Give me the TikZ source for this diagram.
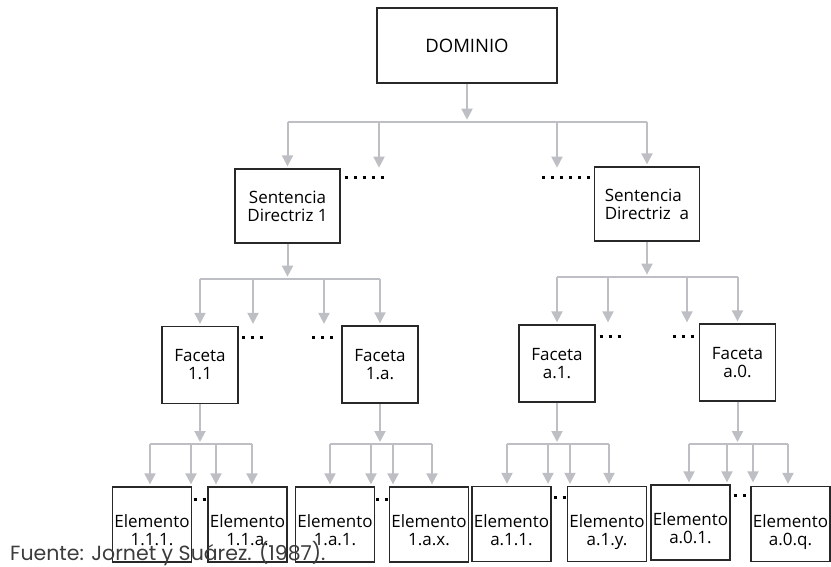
\documentclass[tikz,border=0pt]{standalone}
\usepackage{fontspec}
\setmainfont{Open Sans}
\newfontfamily\fuentefont{Poppins}
\usetikzlibrary{arrows.meta,calc}
\definecolor{gris}{RGB}{190,191,196}
\definecolor{borde}{RGB}{40,40,40}
\begin{document}
\begin{tikzpicture}[x=1pt,y=-1pt,
	caja/.style={draw=borde,line width=1.3pt,inner sep=0pt,align=center,font=\fontsize{17}{18}\selectfont},
	sent/.style={caja,minimum width=105pt,minimum height=74pt},
	faceta/.style={caja,minimum width=76pt,minimum height=77pt},
	elem/.style={caja,minimum width=79pt,minimum height=75pt,text height=45pt,text depth=3pt},
	linea/.style={draw=gris,line width=2pt},
	flecha/.style={linea,-{Triangle[width=11pt,length=11pt]},shorten >=2pt},
	puntos/.style={line width=3pt,dash pattern=on 3pt off 6pt}]
	\useasboundingbox (0,0) rectangle (831,566);
	% niveles
	\node[caja,minimum width=180pt,minimum height=75pt,font=\fontsize{18.5}{20}\selectfont] (dom) at (467,45.5) {DOMINIO};
	\node[sent] (s1) at (287.5,206) {Sentencia\\Directriz 1};
	\node[sent,align=left] (sa) at (647,204) {Sentencia\\Directriz\ \ a};
	\node[faceta] (f11) at (200,365) {Faceta\\1.1};
	\node[faceta] (f1a) at (380,364.5) {Faceta\\1.a.};
	\node[faceta] (fa1) at (557,363.5) {Faceta\\a.1.};
	\node[faceta] (fa0) at (737.5,362.5) {Faceta\\a.0.};
	\node[elem] (e111) at (152,524.5) {Elemento\\1.1.1.};
	\node[elem] (e11a) at (247.5,524.5) {Elemento\\1.1.a.};
	\node[elem] (e1a1) at (335,524.5) {Elemento\\1.a.1.};
	\node[elem] (e1ax) at (429,524.5) {Elemento\\1.a.x.};
	\node[elem] (ea11) at (511.5,524) {Elemento\\a.1.1.};
	\node[elem] (ea1y) at (607,524) {Elemento\\a.1.y.};
	\node[elem] (ea01) at (690.5,522.5) {Elemento\\a.0.1.};
	\node[elem] (ea0q) at (790.5,524) {Elemento\\a.0.q.};
	% dominio -> sentencias
	\coordinate (b1) at ($(dom.south)+(0,38)$);
	\draw[flecha] (dom.south) -- (b1);
	\draw[linea] (b1 -| s1) -- (b1 -| sa);
	\draw[flecha] (b1 -| s1) -- (s1.north);
	\draw[flecha] (b1 -| sa) -- (sa.north);
	\foreach \dx in {-88,90}
	\draw[flecha] ([xshift=\dx pt]b1) -- ++(0,48);
	% sentencias -> facetas
	\coordinate (b2) at ($(s1.south)+(0,35)$);
	\draw[flecha] (s1.south) -- (b2);
	\draw[linea] (b2 -| f11) -- (b2 -| f1a);
	\draw[flecha] (b2 -| f11) -- (f11.north);
	\draw[flecha] (b2 -| f1a) -- (f1a.north);
	\foreach \dx in {-34.5,36.5}
	\draw[flecha] ([xshift=\dx pt]b2) -- ([xshift=\dx pt]b2 |- f11.north);
	\coordinate (b2a) at ($(sa.south)+(0,35)$);
	\draw[flecha] (sa.south) -- (b2a);
	\draw[linea] (b2a -| fa1) -- (b2a -| fa0);
	\draw[flecha] (b2a -| fa1) -- (fa1.north);
	\draw[flecha] (b2a -| fa0) -- (fa0.north);
	\foreach \dx in {-39,40}
	\draw[flecha] ([xshift=\dx pt]b2a) -- ([xshift=\dx pt]b2a |- fa1.north);
	% facetas -> elementos
	\foreach \f/\ea/\eb/\sa/\sb/\da/\db in {f11/e111/e11a/-2/4.5/-9/16,f1a/e1a1/e1ax/-5/3/-9/13,fa1/ea11/ea1y/-4.5/2/-9/13,fa0/ea01/ea0q/-1.5/-2.5/-10.5/15.5}{
		\coordinate (b3) at (\f.south |- 0,444);
		\draw[flecha] (\f.south) -- (b3);
		\draw[linea] ([xshift=\sa pt]\ea.north |- b3) -- ([xshift=\sb pt]\eb.north |- b3);
		\draw[flecha] ([xshift=\sa pt]\ea.north |- b3) -- ([xshift=\sa pt]\ea.north);
		\draw[flecha] ([xshift=\sb pt]\eb.north |- b3) -- ([xshift=\sb pt]\eb.north);
		\foreach \dx in {\da,\db}
		\draw[flecha] ([xshift=\dx pt]b3) -- ([xshift=\dx pt]b3 |- \ea.north);
	}
	% puntos suspensivos
	\draw[puntos] ($(s1.north east)+(4,9)$) -- ++(39,0);
	\draw[puntos] ($(sa.north west)+(-52,11)$) -- ++(48,0);
	\draw[puntos] ($(f11.north east)+(3,11.5)$) -- ++(21,0);
	\draw[puntos] ($(f1a.north west)+(-29,12)$) -- ++(21,0);
	\draw[puntos] ($(fa1.north east)+(4,12)$) -- ++(21,0);
	\draw[puntos] ($(fa0.north west)+(-26,13)$) -- ++(21,0);
	\draw[puntos] ($(e111.north east)+(1.5,13.5)$) -- ++(12,0);
	\draw[puntos] ($(e1a1.north east)+(1,13.5)$) -- ++(12,0);
	\draw[puntos] ($(ea11.north east)+(2,11.5)$) -- ++(12,0);
	\draw[puntos] ($(ea01.north east)+(3,11)$) -- ++(12,0);
	\node[anchor=base west,inner sep=0pt,text={rgb,255:red,60;green,60;blue,60},font=\fuentefont\fontsize{20.5}{21}\selectfont] (fuente) at (10,560) {Fuente: Jornet y Suárez. (1987).};
\end{tikzpicture}
\end{document}
